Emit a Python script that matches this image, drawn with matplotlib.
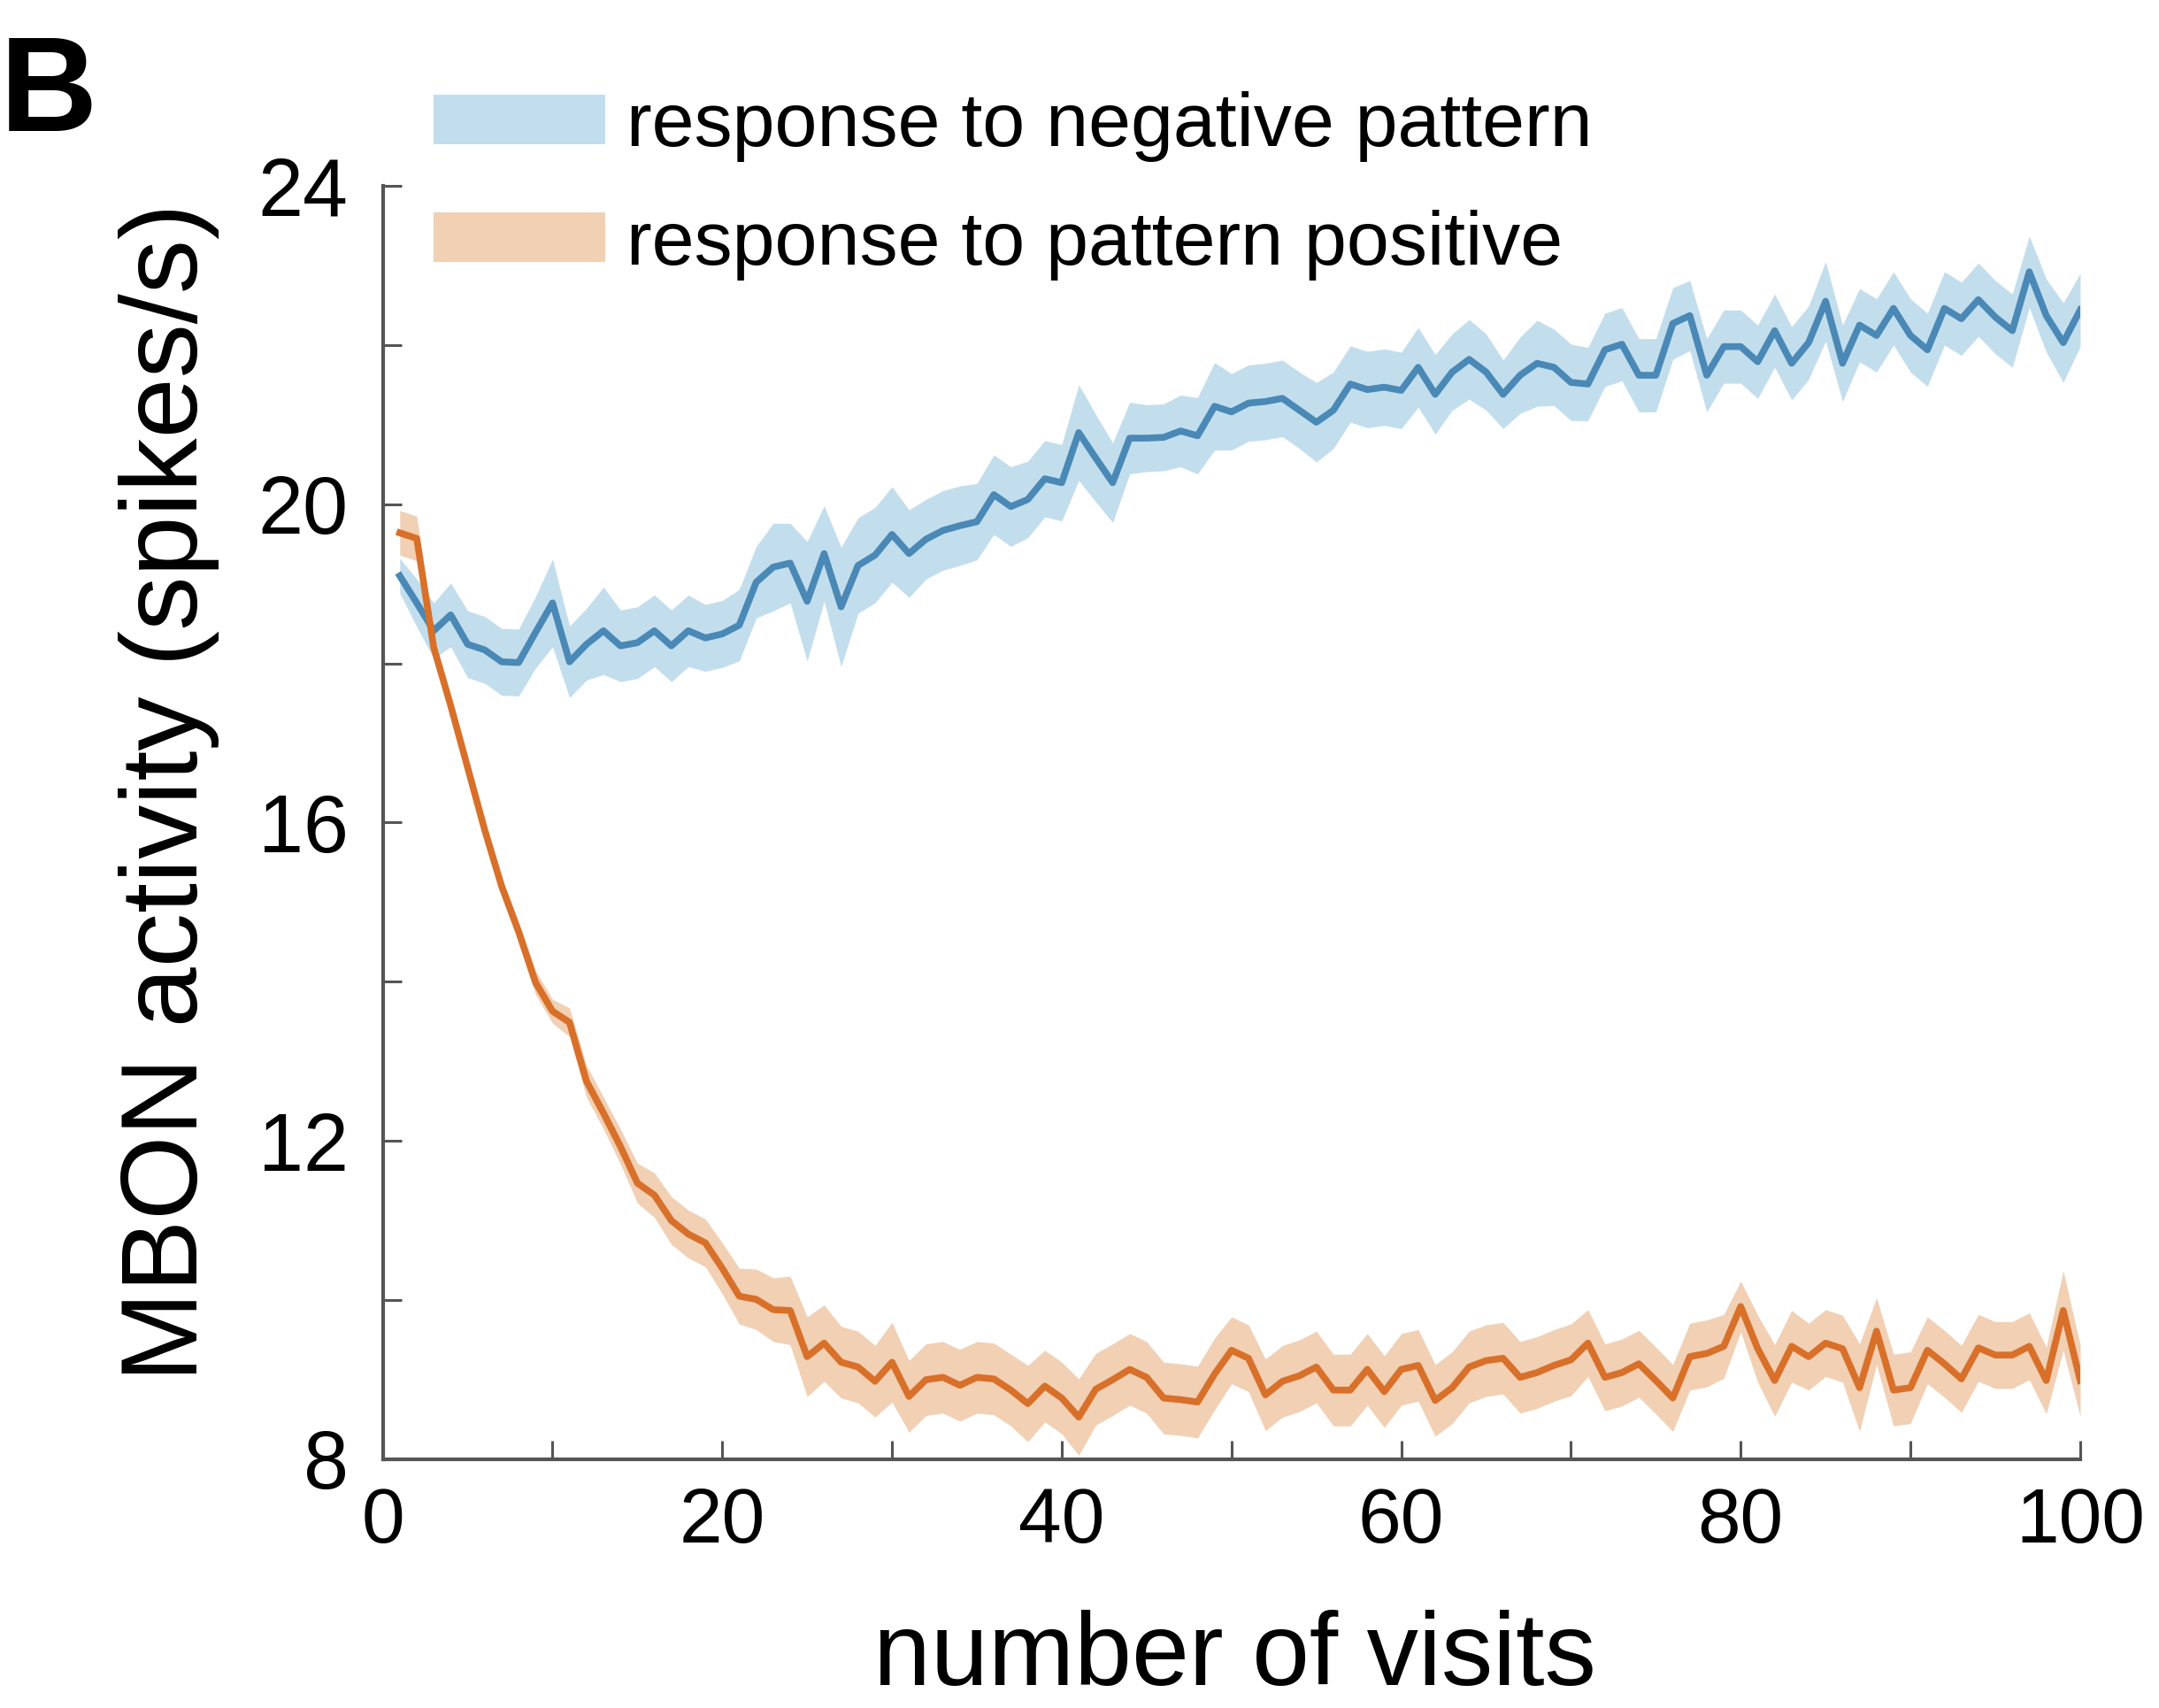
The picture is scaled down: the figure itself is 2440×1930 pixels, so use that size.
import numpy as np
import matplotlib
matplotlib.use('Agg')
import matplotlib.pyplot as plt
from matplotlib.patches import Patch
from matplotlib.ticker import MultipleLocator

#################################################
#            Data                               #
#################################################

visits = np.arange(1, 101)

neg_mean = [19.10, 18.76, 18.41, 18.61, 18.24, 18.17, 18.02, 18.01, 18.39, 18.76,
            18.02, 18.24, 18.41, 18.22, 18.26, 18.41, 18.22, 18.41, 18.32, 18.37,
            18.48, 19.02, 19.21, 19.26, 18.78, 19.38, 18.71, 19.23, 19.36, 19.62,
            19.38, 19.56, 19.67, 19.73, 19.78, 20.12, 19.97, 20.06, 20.32, 20.27,
            20.90, 20.58, 20.27, 20.83, 20.83, 20.84, 20.92, 20.86, 21.23, 21.16,
            21.27, 21.29, 21.33, 21.18, 21.03, 21.18, 21.51, 21.44, 21.47, 21.43,
            21.72, 21.38, 21.66, 21.82, 21.66, 21.38, 21.62, 21.77, 21.72, 21.53,
            21.51, 21.94, 22.01, 21.62, 21.62, 22.27, 22.37, 21.62, 21.98, 21.98,
            21.79, 22.18, 21.77, 22.03, 22.55, 21.77, 22.25, 22.12, 22.46, 22.12,
            21.94, 22.46, 22.33, 22.57, 22.35, 22.18, 22.92, 22.37, 22.03, 22.44]

neg_err = [0.22, 0.30, 0.35, 0.40, 0.42, 0.42, 0.42, 0.42, 0.45, 0.55,
           0.45, 0.45, 0.55, 0.45, 0.45, 0.45, 0.45, 0.45, 0.42, 0.42,
           0.45, 0.45, 0.55, 0.50, 0.75, 0.60, 0.75, 0.60, 0.60, 0.60,
           0.55, 0.50, 0.50, 0.50, 0.48, 0.50, 0.50, 0.48, 0.48, 0.48,
           0.60, 0.55, 0.50, 0.45, 0.42, 0.42, 0.45, 0.48, 0.55, 0.48,
           0.48, 0.48, 0.48, 0.48, 0.50, 0.48, 0.48, 0.48, 0.48, 0.48,
           0.50, 0.50, 0.48, 0.50, 0.48, 0.43, 0.48, 0.54, 0.48, 0.48,
           0.46, 0.46, 0.46, 0.46, 0.46, 0.45, 0.44, 0.46, 0.46, 0.46,
           0.46, 0.46, 0.46, 0.46, 0.50, 0.48, 0.46, 0.46, 0.46, 0.46,
           0.46, 0.46, 0.46, 0.46, 0.46, 0.46, 0.45, 0.46, 0.50, 0.46]

pos_mean = [19.64, 19.57, 18.20, 17.47, 16.69, 15.91, 15.20, 14.63, 13.99, 13.63,
            13.49, 12.75, 12.35, 11.93, 11.47, 11.32, 11.00, 10.83, 10.72, 10.40,
            10.05, 10.01, 9.88, 9.87, 9.29, 9.46, 9.22, 9.16, 8.98, 9.22,
            8.79, 9.00, 9.03, 8.93, 9.03, 9.01, 8.87, 8.70, 8.92, 8.77,
            8.53, 8.88, 9.00, 9.13, 9.03, 8.77, 8.75, 8.72, 9.07, 9.37,
            9.27, 8.81, 8.98, 9.05, 9.16, 8.87, 8.87, 9.13, 8.85, 9.13,
            9.18, 8.74, 8.90, 9.16, 9.24, 9.27, 9.03, 9.09, 9.18, 9.25,
            9.46, 9.03, 9.09, 9.20, 8.99, 8.77, 9.29, 9.33, 9.42, 9.92,
            9.39, 8.99, 9.42, 9.29, 9.46, 9.39, 8.90, 9.61, 8.87, 8.90,
            9.37, 9.20, 9.01, 9.40, 9.31, 9.31, 9.42, 8.99, 9.87, 8.99]

pos_err = [0.28, 0.28, 0.15, 0.12, 0.12, 0.12, 0.12, 0.12, 0.15, 0.15,
           0.18, 0.20, 0.20, 0.22, 0.25, 0.28, 0.30, 0.30, 0.30, 0.32,
           0.35, 0.38, 0.40, 0.43, 0.50, 0.48, 0.45, 0.45, 0.45, 0.50,
           0.45, 0.45, 0.45, 0.45, 0.45, 0.45, 0.45, 0.48, 0.45, 0.45,
           0.48, 0.45, 0.45, 0.45, 0.45, 0.45, 0.45, 0.45, 0.45, 0.42,
           0.42, 0.45, 0.45, 0.45, 0.45, 0.45, 0.45, 0.45, 0.45, 0.45,
           0.45, 0.45, 0.45, 0.45, 0.45, 0.45, 0.45, 0.45, 0.45, 0.45,
           0.42, 0.42, 0.42, 0.42, 0.42, 0.42, 0.42, 0.42, 0.40, 0.32,
           0.42, 0.45, 0.45, 0.42, 0.42, 0.42, 0.55, 0.42, 0.45, 0.45,
           0.42, 0.42, 0.42, 0.42, 0.42, 0.42, 0.42, 0.42, 0.50, 0.45]

labels = ['response to negative pattern', 'response to pattern positive']
xticks = [0, 20, 40, 60, 80, 100]
yticks = [8, 12, 16, 20, 24]

#################################################
#            Style                              #
#################################################

blue_line, blue_fill = '#4a88b6', '#c2deed'
orange_line, orange_fill = '#d8702a', '#f1d0b4'
axis_gray = '#555555'

plt.rcParams['font.family'] = ['Liberation Sans', 'DejaVu Sans']

fig = plt.figure(figsize=(24.4, 19.3), dpi=100)
ax = fig.add_axes([0.1773, 0.1456, 0.7862, 0.7456])

neg_mean, neg_err = np.array(neg_mean), np.array(neg_err)
pos_mean, pos_err = np.array(pos_mean), np.array(pos_err)

ax.fill_between(visits, neg_mean - neg_err, neg_mean + neg_err,
                color=blue_fill, lw=0)
ax.fill_between(visits, pos_mean - pos_err, pos_mean + pos_err,
                color=orange_fill, lw=0)
ax.plot(visits, neg_mean, color=blue_line, lw=5.5)
ax.plot(visits, pos_mean, color=orange_line, lw=5.5)

ax.set_xlim(0, 100)
ax.set_ylim(8, 24)
ax.set_xticks(xticks)
ax.set_yticks(yticks)
ax.xaxis.set_minor_locator(MultipleLocator(10))
ax.yaxis.set_minor_locator(MultipleLocator(2))

for s in ['top', 'right']:
    ax.spines[s].set_visible(False)
for s in ['left', 'bottom']:
    ax.spines[s].set_color(axis_gray)
    ax.spines[s].set_linewidth(3.0)

ax.tick_params(which='both', direction='in', length=15, width=2.2,
               color=axis_gray)
ax.tick_params(axis='y', pad=28, labelsize=66)
ax.tick_params(axis='x', pad=22, labelsize=63)

ax.set_xlabel('number of visits', fontsize=84)
ax.set_ylabel('MBON activity (spikes/s)', fontsize=88)
ax.xaxis.set_label_coords(0.502, -0.118)
ax.yaxis.set_label_coords(-0.096, 0.524)

handles = [Patch(facecolor=blue_fill, edgecolor='none'),
           Patch(facecolor=orange_fill, edgecolor='none')]
fig.legend(handles, labels, loc='center left',
           bbox_to_anchor=(490 / 2440, 1 - 210 / 1930),
           frameon=False, fontsize=62, borderpad=0, borderaxespad=0,
           handlelength=2.25, handleheight=0.62, handletextpad=0.28,
           labelspacing=0.62)

fig.text(0.0, 1 - 148 / 1930, 'B', fontsize=110, fontweight='bold',
         va='baseline', ha='left')

fig.savefig('out.png', dpi=100)
